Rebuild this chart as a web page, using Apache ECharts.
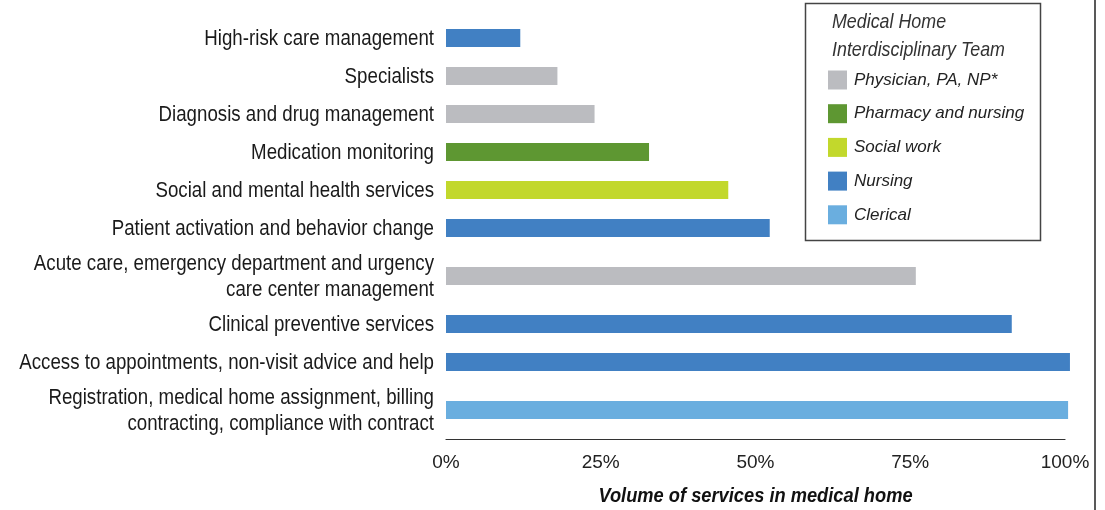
<!DOCTYPE html>
<html>
<head>
<meta charset="utf-8">
<script src="https://cdn.jsdelivr.net/npm/echarts@6/dist/echarts.min.js"></script>
<style>
  html, body { margin: 0; padding: 0; background: #fff; }
  #chart { width: 1105px; height: 510px; }
</style>
</head>
<body>
<div id="chart"></div>
<script>
const services = [
  'High-risk care management',
  'Specialists',
  'Diagnosis and drug management',
  'Medication monitoring',
  'Social and mental health services',
  'Patient activation and behavior change',
  'Acute care, emergency department and urgency\ncare center management',
  'Clinical preventive services',
  'Access to appointments, non-visit advice and help',
  'Registration, medical home assignment, billing\ncontracting, compliance with contract'
]
const volumes = [12, 18, 24, 32.8, 45.6, 52.3, 75.9, 91.4, 100.8, 100.5]
const serviceTeams = [
  'Nursing',
  'Physician, PA, NP*',
  'Physician, PA, NP*',
  'Pharmacy and nursing',
  'Social work',
  'Nursing',
  'Physician, PA, NP*',
  'Nursing',
  'Nursing',
  'Clerical'
]
const teamNames = ['Physician, PA, NP*', 'Pharmacy and nursing', 'Social work', 'Nursing', 'Clerical']
const xTicks = [0, 25, 50, 75, 100]

const TEAM_COLORS = {
  'Physician, PA, NP*': '#bbbcc0',
  'Pharmacy and nursing': '#5e9732',
  'Social work': '#c2d82c',
  'Nursing': '#4180c3',
  'Clerical': '#6aaedf'
}
const FONT = '"Liberation Sans", Arial, sans-serif'
// the source uses a condensed face; squeeze Liberation Sans to fake it
const NARROW = 0.85

// rows with two-line labels get a taller slot
const rowHalf = services.map((s) => (s.includes('\n') ? 29 : 19))
const rowPos = []
rowHalf.forEach((h, i) => {
  rowPos.push(i === 0 ? h : rowPos[i - 1] + rowHalf[i - 1] + h)
})

const renderBar = (params, api) => {
  const value = api.value(0)
  const pos = api.value(1)
  const start = api.coord([0, pos])
  const end = api.coord([value, pos])
  const h = api.size([0, 18])[1]
  return {
    type: 'group',
    children: [
      {
        type: 'rect',
        shape: { x: start[0], y: start[1] - h / 2, width: end[0] - start[0], height: h },
        style: { fill: api.visual('color') }
      },
      {
        type: 'text',
        x: start[0] - 12,
        y: start[1] + 1,
        scaleX: NARROW,
        style: {
          text: services[api.value(2)],
          align: 'right',
          verticalAlign: 'middle',
          fill: '#1a1a1a',
          font: `22px ${FONT}`,
          lineHeight: 26
        }
      }
    ]
  }
}

const chart = echarts.init(document.getElementById('chart'))

chart.setOption({
  animation: false,
  grid: { left: 446, right: 40, top: 19, height: 420, outerBoundsMode: 'none' },
  xAxis: {
    type: 'value',
    min: 0,
    max: 100,
    interval: 25,
    axisLine: { show: true, onZero: false, lineStyle: { color: '#333', width: 1.2 } },
    axisTick: { show: false },
    splitLine: { show: false },
    axisLabel: {
      margin: 14,
      color: '#222',
      fontSize: 19,
      fontFamily: FONT,
      formatter: (v) => (xTicks.includes(v) ? `${v}%` : '')
    }
  },
  yAxis: {
    type: 'value',
    min: 0,
    max: 420,
    inverse: true,
    show: false
  },
  legend: {
    data: teamNames,
    orient: 'vertical',
    left: 828,
    top: 70.5,
    padding: 0,
    itemWidth: 19,
    itemHeight: 19,
    itemGap: 14.7,
    icon: 'rect',
    textStyle: {
      color: '#222',
      fontSize: 17,
      fontStyle: 'italic',
      fontFamily: FONT,
      padding: [0, 0, 0, 2]
    }
  },
  graphic: [
    {
      type: 'rect',
      shape: { x: 805.5, y: 3.5, width: 235, height: 237 },
      style: { fill: 'none', stroke: '#444', lineWidth: 1.5 }
    },
    {
      type: 'text',
      x: 832,
      y: 8,
      scaleX: NARROW,
      style: {
        text: 'Medical Home\nInterdisciplinary Team',
        fill: '#333',
        font: `italic 21px ${FONT}`,
        lineHeight: 28
      }
    },
    {
      type: 'text',
      x: 755.5,
      y: 496,
      scaleX: 0.87,
      style: {
        text: 'Volume of services in medical home',
        align: 'center',
        verticalAlign: 'middle',
        fill: '#111',
        font: `italic bold 21px ${FONT}`
      }
    },
    {
      type: 'line',
      shape: { x1: 1095, y1: 0, x2: 1095, y2: 510 },
      style: { stroke: '#222', lineWidth: 1.5 }
    }
  ],
  series: teamNames.map((team) => ({
    name: team,
    type: 'custom',
    clip: false,
    renderItem: renderBar,
    itemStyle: { color: TEAM_COLORS[team] },
    encode: { x: 0, y: 1 },
    data: services
      .map((s, i) => [volumes[i], rowPos[i], i])
      .filter((d) => serviceTeams[d[2]] === team)
  }))
})
</script>
</body>
</html>
